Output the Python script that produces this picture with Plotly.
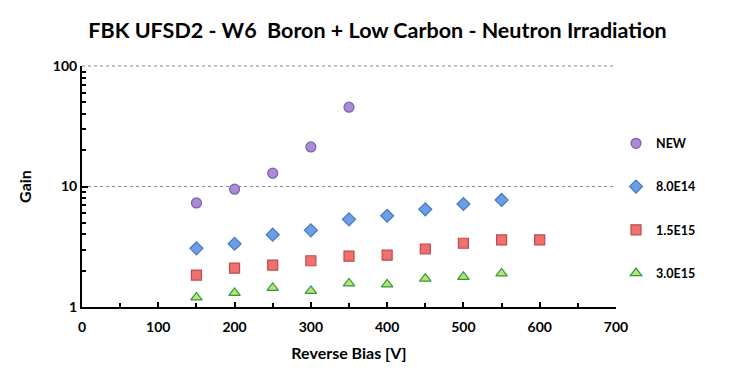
import plotly.graph_objects as go

# Reverse bias values [V]
bias_new = [150, 200, 250, 300, 350]
gain_new = [7.3, 9.5, 12.9, 21.3, 45.5]

bias_8e14 = [150, 200, 250, 300, 350, 400, 450, 500, 550]
gain_8e14 = [3.07, 3.35, 3.98, 4.33, 5.34, 5.72, 6.47, 7.16, 7.73]

bias_15e15 = [150, 200, 250, 300, 350, 400, 450, 500, 550, 600]
gain_15e15 = [1.84, 2.10, 2.23, 2.42, 2.64, 2.69, 3.03, 3.38, 3.60, 3.60]

bias_3e15 = [150, 200, 250, 300, 350, 400, 450, 500, 550]
gain_3e15 = [1.20, 1.31, 1.44, 1.36, 1.57, 1.54, 1.72, 1.78, 1.90]

FONT = "Lato"

series = [
    ("NEW", bias_new, gain_new, "circle", "#a98bd6", "#7b5fae"),
    ("8.0E14", bias_8e14, gain_8e14, "diamond", "#6a9ee6", "#4a78c4"),
    ("1.5E15", bias_15e15, gain_15e15, "square", "#ef7070", "#c44848"),
    ("3.0E15", bias_3e15, gain_3e15, "triangle-up", "#bfe36a", "#2a9a48"),
]

fig = go.Figure()
for name, x, y, sym, fill, edge in series:
    fig.add_trace(go.Scatter(
        x=x, y=y, mode="markers", name="<b>" + name + "</b>", legendgroup=name,
        marker=dict(symbol=sym, size=10, color=fill, line=dict(color=edge, width=1.2)),
    ))

minor_y = [2, 3, 4, 5, 6, 7, 8, 9, 20, 30, 40, 50, 60, 70, 80, 90]

# page body has an 8px margin, so the figure is a bit smaller than the window
fig.update_layout(
    width=739, height=372,
    margin=dict(l=74, r=131, t=58, b=73, autoexpand=False),
    paper_bgcolor="white", plot_bgcolor="white",
    font=dict(family=FONT, color="black", size=14),
    title=dict(text="<b>FBK UFSD2 - W6  Boron + Low Carbon - Neutron Irradiation</b>",
               x=0.5, xanchor="center", y=0.94, yanchor="middle",
               font=dict(size=21.5, family=FONT)),
    showlegend=True,
    legend=dict(x=1.0, y=0.74, xanchor="left", yanchor="top",
                font=dict(size=12.5, family=FONT), tracegroupgap=24,
                itemwidth=30),
    # dotted gridline along the top edge (100)
    shapes=[dict(type="line", xref="x domain", yref="y domain", x0=0, x1=1, y0=1, y1=1,
                 line=dict(color="#888888", width=1, dash="dot"))],
)

fig.update_xaxes(
    range=[0, 700], dtick=100, tick0=0, automargin=False,
    showline=True, linecolor="black", linewidth=2,
    ticks="inside", ticklen=5, tickwidth=2, tickcolor="black",
    minor=dict(ticks="inside", dtick=50, ticklen=4, tickwidth=1.5, tickcolor="black"),
    showgrid=False, zeroline=False, ticklabelstandoff=6,
    tickfont=dict(size=14, family=FONT), tickprefix="<b>", ticksuffix="</b>",
    title=dict(text="<b>Reverse Bias [V]</b>", font=dict(size=16, family=FONT), standoff=14),
)

fig.update_yaxes(
    type="log", range=[0, 2], automargin=False,
    tickvals=[1, 10, 100], ticktext=["<b>1</b>", "<b>10</b>", "<b>100</b>"],
    showline=True, linecolor="black", linewidth=2,
    ticks="inside", ticklen=6, tickwidth=2, tickcolor="black",
    minor=dict(ticks="inside", tickvals=minor_y, ticklen=4, tickwidth=1.5,
               tickcolor="black", showgrid=False),
    showgrid=True, gridcolor="#888888", griddash="dot", gridwidth=1,
    zeroline=False,
    tickfont=dict(size=14, family=FONT),
    title=dict(text="<b>Gain</b>", font=dict(size=16, family=FONT), standoff=17),
)

fig.write_html("out.html")
